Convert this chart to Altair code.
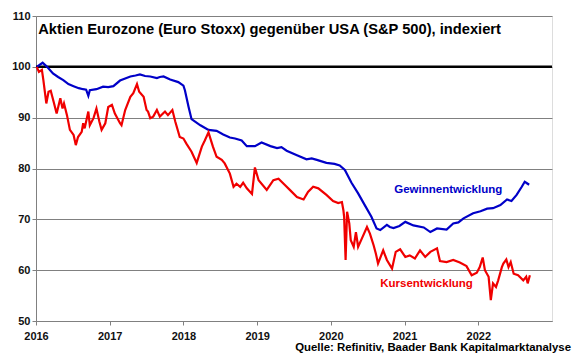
import altair as alt
import pandas as pd

# Gewinnentwicklung (blue)
gew_jahr = [2016.01, 2016.09, 2016.15, 2016.23, 2016.30, 2016.37, 2016.44, 2016.51, 2016.58, 2016.64, 2016.68,
            2016.71, 2016.73, 2016.82, 2016.91, 2016.98, 2017.05, 2017.14, 2017.21, 2017.28, 2017.35, 2017.41,
            2017.48, 2017.55, 2017.64, 2017.68, 2017.73, 2017.82, 2017.93, 2018.00, 2018.02, 2018.07, 2018.11,
            2018.23, 2018.34, 2018.45, 2018.54, 2018.63, 2018.70, 2018.79, 2018.86, 2018.97, 2019.06, 2019.18,
            2019.27, 2019.33, 2019.40, 2019.54, 2019.67, 2019.74, 2019.81, 2019.94, 2020.05, 2020.12, 2020.19,
            2020.28, 2020.37, 2020.46, 2020.55, 2020.62, 2020.67, 2020.76, 2020.80, 2020.85, 2020.93, 2021.01,
            2021.12, 2021.26, 2021.35, 2021.44, 2021.57, 2021.66, 2021.73, 2021.80, 2021.93, 2022.03, 2022.12,
            2022.20, 2022.30, 2022.39, 2022.45, 2022.52, 2022.59, 2022.63, 2022.66, 2022.69]
gew_wert = [100.0, 100.8, 100.0, 98.7, 98.0, 97.4, 96.6, 96.2, 95.8, 95.6, 95.5,
            94.3, 95.4, 95.6, 96.1, 96.0, 96.2, 97.3, 97.7, 98.1, 98.3, 98.5,
            98.2, 98.1, 97.8, 98.0, 98.1, 97.5, 97.0, 96.3, 95.4, 92.1, 89.7,
            88.5, 87.6, 87.4, 86.7, 86.1, 85.9, 85.5, 84.4, 84.4, 85.1, 84.4,
            84.0, 84.2, 83.5, 82.6, 81.8, 82.0, 81.7, 81.1, 80.9, 80.6, 79.7,
            77.2, 75.1, 72.8, 70.5, 68.2, 67.9, 68.9, 68.5, 68.3, 68.7, 69.5,
            68.8, 68.4, 67.5, 68.2, 68.0, 69.2, 69.4, 70.2, 71.2, 71.6, 72.1,
            72.2, 72.8, 73.9, 73.6, 74.8, 76.4, 77.4, 77.1, 76.8]

# Kursentwicklung (red)
kurs_jahr = [2016.01, 2016.04, 2016.08, 2016.10, 2016.14, 2016.17, 2016.20, 2016.24, 2016.28, 2016.33, 2016.36,
             2016.38, 2016.42, 2016.46, 2016.51, 2016.54, 2016.57, 2016.62, 2016.64, 2016.66, 2016.71, 2016.73,
             2016.78, 2016.82, 2016.86, 2016.89, 2016.94, 2016.98, 2017.03, 2017.07, 2017.14, 2017.16, 2017.21,
             2017.28, 2017.32, 2017.37, 2017.40, 2017.46, 2017.50, 2017.52, 2017.55, 2017.59, 2017.64, 2017.68,
             2017.75, 2017.79, 2017.85, 2017.89, 2017.95, 2018.00, 2018.04, 2018.11, 2018.18, 2018.25, 2018.29,
             2018.34, 2018.40, 2018.45, 2018.52, 2018.56, 2018.63, 2018.68, 2018.72, 2018.77, 2018.81, 2018.86,
             2018.93, 2018.97, 2019.02, 2019.13, 2019.22, 2019.29, 2019.38, 2019.45, 2019.54, 2019.63, 2019.69,
             2019.76, 2019.83, 2019.94, 2020.03, 2020.10, 2020.15, 2020.17, 2020.18, 2020.20, 2020.22, 2020.25,
             2020.27, 2020.31, 2020.34, 2020.37, 2020.42, 2020.49, 2020.53, 2020.58, 2020.61, 2020.64, 2020.71,
             2020.76, 2020.83, 2020.88, 2020.94, 2021.01, 2021.07, 2021.14, 2021.21, 2021.28, 2021.35, 2021.44,
             2021.48, 2021.57, 2021.66, 2021.75, 2021.84, 2021.91, 2021.98, 2022.02, 2022.06, 2022.09, 2022.14,
             2022.17, 2022.20, 2022.24, 2022.27, 2022.32, 2022.34, 2022.38, 2022.41, 2022.44, 2022.48, 2022.54,
             2022.61, 2022.65, 2022.67, 2022.70]
kurs_wert = [100.0, 99.0, 99.4, 97.4, 92.8, 95.1, 95.3, 93.1, 90.8, 93.8, 91.8,
             92.8, 90.5, 87.6, 86.6, 84.6, 86.2, 87.2, 88.9, 87.9, 91.2, 88.5,
             89.9, 91.8, 89.2, 87.6, 88.9, 92.1, 92.5, 90.8, 88.9, 88.5, 91.5,
             94.1, 94.8, 96.6, 95.1, 94.1, 91.5, 91.2, 89.9, 90.2, 91.5, 90.2,
             91.2, 90.5, 91.5, 89.2, 86.2, 85.9, 84.9, 83.3, 81.1, 84.3, 85.5,
             87.1, 84.3, 82.3, 81.7, 81.0, 79.0, 76.4, 77.0, 76.4, 77.2, 76.1,
             75.0, 80.2, 77.7, 75.8, 77.7, 78.0, 76.7, 75.7, 74.4, 73.9, 75.4,
             76.4, 76.1, 74.8, 73.6, 73.2, 73.4, 71.8, 70.5, 62.0, 71.5, 69.2,
             65.9, 64.6, 67.5, 64.6, 66.2, 68.5, 67.2, 64.9, 63.3, 61.3, 63.9,
             62.0, 60.3, 63.6, 64.1, 62.6, 62.9, 62.3, 63.9, 62.6, 63.6, 64.3,
             61.8, 61.6, 62.0, 61.5, 60.8, 59.0, 59.5, 60.6, 62.5, 60.0, 58.7,
             54.1, 57.4, 56.7, 58.0, 60.6, 61.3, 62.1, 60.6, 61.6, 59.3, 59.0,
             58.0, 58.7, 57.4, 59.0]

serien = ["Gewinnentwicklung", "Kursentwicklung"]
farben = ["#0000C8", "#F00000"]

jahre = [2016, 2017, 2018, 2019, 2020, 2021, 2022]
y_werte = [50, 60, 70, 80, 90, 100, 110]

titel = "Aktien Eurozone (Euro Stoxx) gegenüber USA (S&P 500), indexiert"
quelle = "Quelle: Refinitiv, Baader Bank Kapitalmarktanalyse"

df = pd.concat([
    pd.DataFrame({"jahr": gew_jahr, "wert": gew_wert, "serie": serien[0]}),
    pd.DataFrame({"jahr": kurs_jahr, "wert": kurs_wert, "serie": serien[1]}),
])

FONT = "Liberation Sans"

xscale = alt.Scale(domain=[2016, 2023], nice=False, zero=False)
yscale = alt.Scale(domain=[50, 110], nice=False, zero=False)

x_axis = alt.Axis(values=jahre, format="d", title=None, grid=False, tickSize=4, tickColor="#808080",
                  domainColor="#808080", labelFont=FONT, labelFontSize=11, labelFontWeight="bold",
                  labelColor="#111111", labelPadding=5, labelFlush=False)
y_axis = alt.Axis(values=y_werte, title=None, grid=True, gridColor="#808080", gridOpacity=1, gridWidth=1,
                  tickSize=4, tickColor="#808080", domainColor="#808080", labelFont=FONT, labelFontSize=11,
                  labelFontWeight="bold", labelColor="#111111", labelPadding=2)

lines = alt.Chart(df).mark_line(strokeWidth=2.2).encode(
    x=alt.X("jahr:Q", scale=xscale, axis=x_axis),
    y=alt.Y("wert:Q", scale=yscale, axis=y_axis),
    color=alt.Color("serie:N", scale=alt.Scale(domain=serien, range=farben), legend=None),
)

rule = alt.Chart(pd.DataFrame({"wert": [100]})).mark_rule(color="black", strokeWidth=2.5).encode(
    y=alt.Y("wert:Q", scale=yscale)
)

labels_df = pd.DataFrame({
    "jahr": [2020.86, 2020.67],
    "wert": [75.75, 57.2],
    "text": serien,
    "serie": serien,
})
labels = alt.Chart(labels_df).mark_text(align="left", baseline="middle", font=FONT, fontSize=11.5,
                                         fontWeight="bold").encode(
    x=alt.X("jahr:Q", scale=xscale),
    y=alt.Y("wert:Q", scale=yscale),
    text="text:N",
    color=alt.Color("serie:N", scale=alt.Scale(domain=serien, range=farben), legend=None),
)

title_df = pd.DataFrame({"jahr": [2016.03], "wert": [107.2], "text": [titel]})
title_mark = alt.Chart(title_df).mark_text(align="left", baseline="middle", font=FONT, fontSize=14.7,
                                            fontWeight="bold", color="black").encode(
    x=alt.X("jahr:Q", scale=xscale),
    y=alt.Y("wert:Q", scale=yscale),
    text="text:N",
)

src = alt.Chart(pd.DataFrame({"text": [quelle]})).mark_text(align="right", baseline="middle", font=FONT,
                                                            fontSize=11.4, fontWeight="bold",
                                                            color="black").encode(
    x=alt.value(535), y=alt.value(332), text="text:N"
)

chart = alt.layer(rule, lines, labels, title_mark, src).properties(
    width=516, height=305,
    autosize=alt.AutoSizeParams(type="none"),
    padding={"left": 28, "top": 8, "right": 20, "bottom": 36},
).configure_view(stroke="#808080", strokeWidth=1).configure(background="white")

chart.save("out.html", embed_options={"renderer": "svg", "actions": False})
